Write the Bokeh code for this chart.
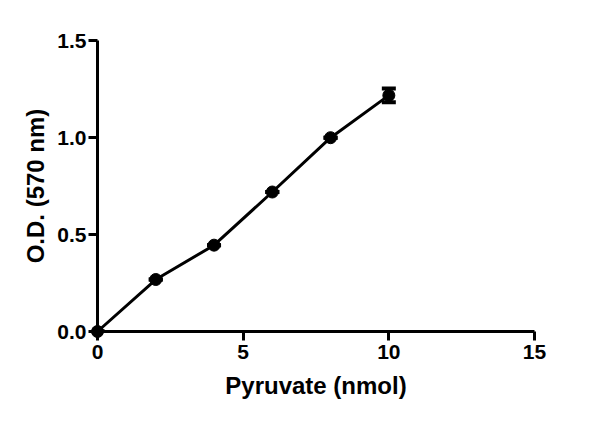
from bokeh.plotting import figure
from bokeh.models import Range1d, FixedTicker, Whisker, ColumnDataSource
from bokeh.embed import file_html
from bokeh.resources import INLINE

x_vals = [0, 2, 4, 6, 8, 10]
y_vals = [0.0, 0.268, 0.445, 0.719, 0.999, 1.217]
y_err = [0.0, 0.0, 0.0, 0.0, 0.0, 0.035]
x_ticks = [0, 5, 10, 15]
y_ticks = [0.0, 0.5, 1.0, 1.5]
y_tick_labels = {0: "0.0", 0.5: "0.5", 1: "1.0", 1.5: "1.5"}

p = figure(width=584, height=405, output_backend="svg", toolbar_location=None,
           x_range=Range1d(0, 15), y_range=Range1d(0, 1.5),
           min_border_left=97, min_border_right=50, min_border_top=40, min_border_bottom=74)
p.outline_line_color = None
p.grid.visible = False
p.background_fill_color = "white"
p.border_fill_color = "white"

FONT = "Liberation Sans"
for ax in (p.xaxis[0], p.yaxis[0]):
    ax.axis_line_width = 3
    ax.axis_line_color = "black"
    ax.major_tick_line_width = 3
    ax.major_tick_line_color = "black"
    ax.major_tick_out = 9
    ax.major_tick_in = 0
    ax.minor_tick_line_color = None
    ax.major_label_text_font = FONT
    ax.major_label_text_font_style = "bold"
    ax.major_label_text_font_size = "21px"
    ax.major_label_text_color = "black"
    ax.axis_label_text_font = FONT
    ax.axis_label_text_font_style = "bold"
    ax.axis_label_text_font_size = "24px"
    ax.axis_label_text_color = "black"

p.xaxis.ticker = FixedTicker(ticks=x_ticks)
p.yaxis.ticker = FixedTicker(ticks=y_ticks)
p.yaxis.major_label_overrides = y_tick_labels
p.xaxis.axis_label = "Pyruvate (nmol)"
p.yaxis.axis_label = "O.D. (570 nm)"
p.xaxis.major_label_standoff = 4
p.yaxis.major_label_standoff = 2
p.xaxis.axis_label_standoff = 10
p.yaxis.axis_label_standoff = 5

src = ColumnDataSource(dict(
    x=x_vals, y=y_vals,
    lower=[y - e for y, e in zip(y_vals, y_err)],
    upper=[y + e for y, e in zip(y_vals, y_err)],
))

p.line("x", "y", source=src, line_width=3, line_color="black", level="overlay")
p.scatter("x", "y", source=src, size=12, fill_color="black", line_color="black", level="overlay")
w = Whisker(base="x", lower="lower", upper="upper", source=src, line_width=3, line_color="black",
            level="overlay")
w.upper_head.size = 14
w.lower_head.size = 14
w.upper_head.line_width = 4
w.lower_head.line_width = 4
p.add_layout(w)

open("out.html", "w").write(file_html(p, INLINE))
